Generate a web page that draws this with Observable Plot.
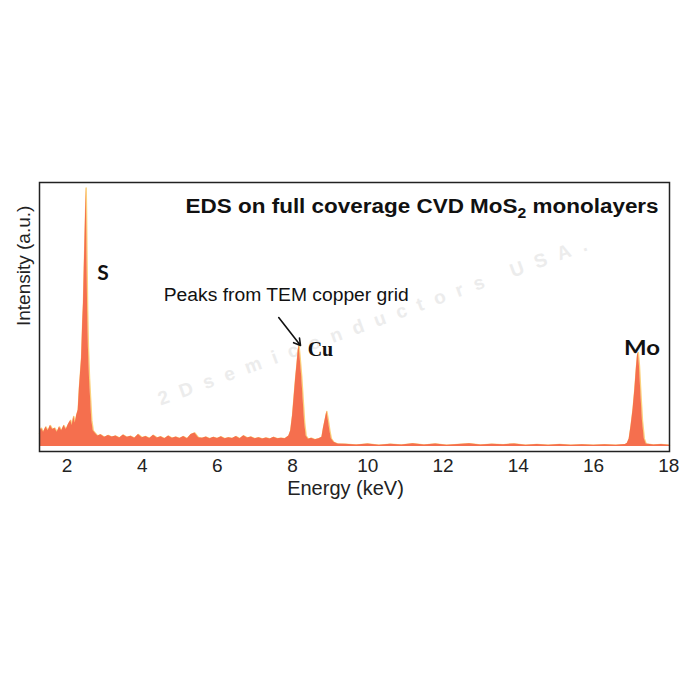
<!DOCTYPE html>
<html><head><meta charset="utf-8">
<script src="https://cdn.jsdelivr.net/npm/d3@7"></script>
<script src="https://cdn.jsdelivr.net/npm/@observablehq/plot@0.6"></script>
<style>body{margin:0;background:#fff;} #chart{width:700px;height:700px;}</style>
</head><body><div id="chart"></div>
<script>
// Spectrum (energy in keV, intensity in arbitrary units)
const energy = [
  1.27,1.32,1.38,1.44,1.50,1.56,1.62,1.68,1.74,1.80,1.86,1.92,1.98,2.04,2.10,2.14,2.18,2.22,2.26,2.30,
  2.33,2.36,2.39,2.42,2.44,2.46,2.48,2.50,2.51,2.52,2.53,2.55,2.57,2.60,2.63,2.66,2.70,2.76,2.82,2.90,
  3.0,3.1,3.2,3.3,3.4,3.5,3.6,3.7,3.8,3.9,4.0,4.1,4.2,4.3,4.4,4.5,4.6,4.7,4.8,4.9,
  5.0,5.1,5.2,5.3,5.4,5.5,5.6,5.7,5.8,5.9,6.0,6.1,6.2,6.3,6.4,6.5,6.6,6.7,6.8,6.9,
  7.0,7.1,7.2,7.3,7.4,7.5,7.6,7.7,7.8,7.9,7.95,8.00,8.04,8.08,8.12,8.15,8.17,8.20,8.24,8.28,
  8.32,8.36,8.42,8.5,8.6,8.7,8.78,8.82,8.87,8.91,8.95,8.99,9.03,9.1,9.2,
  9.4,9.7,10.0,10.3,10.6,10.9,11.2,11.5,11.8,12.1,12.4,12.7,13.0,13.3,13.6,13.9,14.2,14.5,14.8,15.1,
  15.4,15.7,16.0,16.3,16.6,16.85,16.9,16.95,17.0,17.05,17.10,17.14,17.17,17.19,17.22,17.26,17.30,17.35,17.4,17.6,
  17.8,18.02
];
const counts = [
  5,7,5.5,7.5,6,8,6.5,7,5.5,7.5,6,8,6.5,8.5,10,8,11.5,9,12,14,
  22,28,34,48,55,68,80,92,99,90,75,52,38,26,18,10,6,5,4,4.5,
  3.5,4.2,3.6,4.0,3.3,4.4,3.5,3.9,3.2,4.6,3.4,3.8,3.1,4.3,3.3,3.7,3.0,4.0,3.2,3.6,
  3.1,3.8,3.0,4.6,5.2,3.4,3.2,3.6,3.0,3.5,3.1,3.7,3.0,3.4,3.1,3.8,3.0,4.1,3.3,3.6,
  3.0,3.4,2.9,3.3,2.9,3.5,3.0,3.2,3.0,4.0,6,12,19,26,32,37,38.7,34,27,18,
  9,4,2.8,3.2,2.6,3.0,3.5,7,10.5,13.4,10,6,3,1.6,1.0,
  0.9,0.6,1.0,0.5,0.9,0.6,1.1,0.6,1.0,0.5,0.8,1.1,0.6,0.9,0.7,1.0,0.5,0.8,0.5,0.8,
  0.5,0.7,0.5,0.7,0.5,0.8,1.2,3,8,14,22,30,35,36,31,20,10,3,1.0,0.6,
  0.8,0.5
];
const xTicks = [2, 4, 6, 8, 10, 12, 14, 16, 18];
const title = "EDS on full coverage CVD MoS2 monolayers";
const xLabel = "Energy (keV)";
const yLabel = "Intensity (a.u.)";
const note = "Peaks from TEM copper grid";
const watermark = "2Dsemiconductors USA.";
const elements = ["S", "Cu", "Mo"];

const data = energy.map((e, i) => ({energy: e, counts: counts[i]}));

const chart = Plot.plot({
  width: 700, height: 700,
  marginTop: 182, marginBottom: 249, marginLeft: 39, marginRight: 31,
  style: {fontFamily: "'Liberation Sans', Arial, sans-serif", fontSize: "18px", color: "#222", background: "#fff"},
  x: {domain: [1.27, 18.02], axis: null},
  y: {domain: [0, 100], range: [446, 185], axis: null},
  marks: [
    Plot.text([watermark], {frameAnchor: "middle", dx: 18, dy: 5, rotate: -20, text: d => d,
      fontSize: 19, fontWeight: "bold", fill: "#ececec"}),
    Plot.lineY(data, {x: "energy", y: "counts", stroke: "#fbd27c", strokeWidth: 1.5}),
    Plot.areaY(data, {x: "energy", y: "counts", fill: "#f56f4e"}),
    Plot.frame({stroke: "#222", strokeWidth: 1.5}),
    Plot.axisX({ticks: xTicks, tickSize: 0, tickPadding: 7, label: null, fontSize: 19}),
    Plot.text([xLabel], {frameAnchor: "bottom", dx: -9, dy: 43, text: d => d, fontSize: 20}),
    Plot.text([yLabel], {frameAnchor: "left", dx: -16, dy: 9, rotate: -90, text: d => d, fontSize: 19}),
    Plot.text([title], {x: 17.73, y: 92.1, text: d => d, textAnchor: "end", fontSize: 20, fontWeight: "bold", fill: "#111"}),
    Plot.text([note], {x: 7.83, y: 57.9, text: d => d, fontSize: 18, fill: "#111"}),
    Plot.arrow([note], {x1: 7.63, y1: 49.4, x2: 8.21, y2: 38.7, stroke: "#111", strokeWidth: 1.6, headLength: 7}),
    Plot.text([elements[0]], {x: 2.96, y: 66.5, text: d => d, fontSize: 21, fontWeight: "bold", fontFamily: "Lato, sans-serif", fill: "#111"}),
    Plot.text([elements[1]], {x: 8.74, y: 37.2, text: d => d, fontSize: 20, fontWeight: "bold", fontFamily: "'Liberation Serif', serif", fill: "#111"}),
    Plot.text([elements[2]], {x: 17.29, y: 37.4, text: d => d, fontSize: 20, fontWeight: "bold", fontFamily: "Lato, sans-serif", fill: "#111"})
  ]
});
document.getElementById("chart").appendChild(chart);

// match text widths of the original, and set the subscript in the title
const widths = {[title]: [473, "spacingAndGlyphs"], [note]: [245, "spacingAndGlyphs"], [watermark]: [455, "spacing"], [elements[2]]: [36, "spacingAndGlyphs"]};
chart.querySelectorAll("text").forEach(t => {
  const txt = t.textContent;
  const w = widths[txt];
  if (txt === title) {
    const [a, b] = title.split("MoS2");
    t.textContent = "";
    const ns = "http://www.w3.org/2000/svg";
    const s1 = document.createElementNS(ns, "tspan"); s1.textContent = a + "MoS";
    const s2 = document.createElementNS(ns, "tspan"); s2.textContent = "2";
    s2.setAttribute("font-size", "14"); s2.setAttribute("dy", "5");
    const s3 = document.createElementNS(ns, "tspan"); s3.textContent = b; s3.setAttribute("dy", "-5");
    t.append(s1, s2, s3);
  }
  if (w) { t.setAttribute("textLength", w[0]); t.setAttribute("lengthAdjust", w[1]); }
});
</script>
</body></html>
